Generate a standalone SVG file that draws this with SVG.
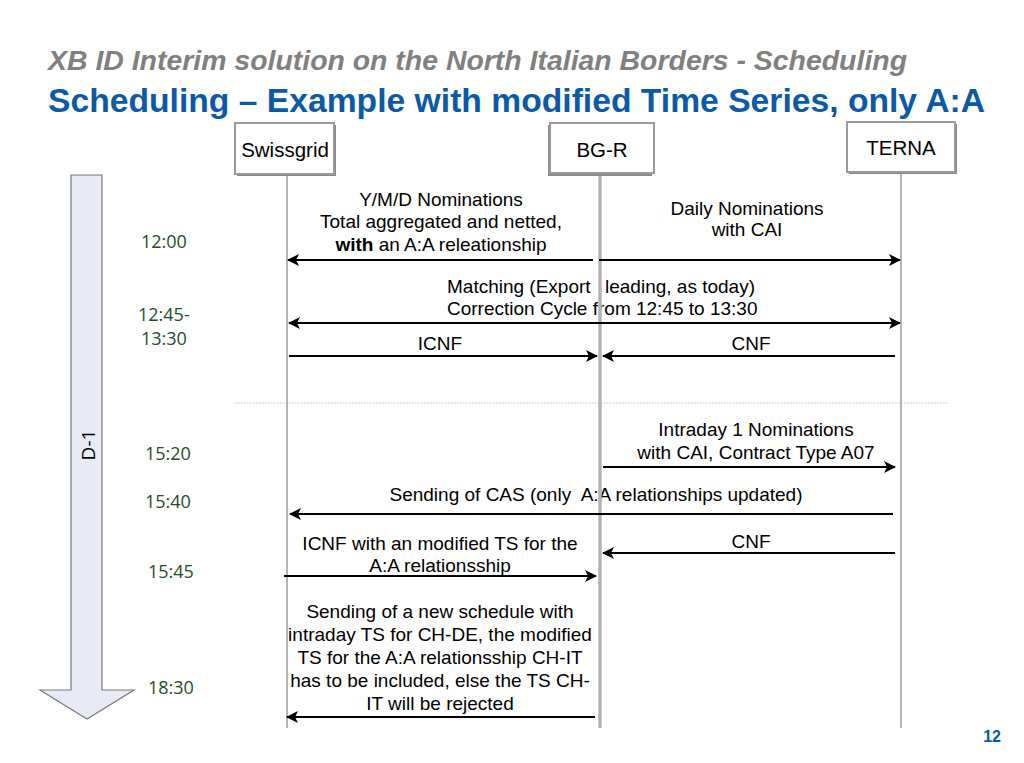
<svg xmlns="http://www.w3.org/2000/svg" width="1024" height="763" viewBox="0 0 1024 763">
<style>
.t{font-family:"Liberation Sans",Arial,sans-serif;font-size:19px;fill:#000;text-anchor:middle}
.ts{font-family:"Liberation Sans",Arial,sans-serif;font-size:19px;fill:#000;text-anchor:start}
.tm{font-family:"Open Sans","Noto Sans",sans-serif;font-size:18px;fill:#264d26}
.life{stroke:#b4b4b4;fill:none}
.box{fill:#fff;stroke:#9a9a9a;stroke-width:2}
.shadow{fill:#8a8a8a}
.lbl{font-family:"Liberation Sans",Arial,sans-serif;font-size:20.5px;fill:#000;text-anchor:middle}
.ar{stroke:#000;stroke-width:2;fill:none}
</style>
<defs>
<marker id="ah" viewBox="0 0 12 12" refX="11" refY="6" markerWidth="12" markerHeight="12" markerUnits="userSpaceOnUse" orient="auto-start-reverse">
<path d="M0,0 L12,6 L0,12 L3,6 z" fill="#000"/>
</marker>
</defs>
<rect width="1024" height="763" fill="#fff"/>
<text x="48" y="70" font-family="Liberation Sans,Arial,sans-serif" font-size="28" font-weight="bold" font-style="italic" fill="#808080" textLength="859" lengthAdjust="spacingAndGlyphs">XB ID Interim solution on the North Italian Borders - Scheduling</text>
<text x="48" y="112" font-family="Liberation Sans,Arial,sans-serif" font-size="33" font-weight="bold" fill="#0b5aa8" textLength="937" lengthAdjust="spacingAndGlyphs">Scheduling – Example with modified Time Series, only A:A</text>

<g id="timeline">
<path d="M71,175 L102,175 L102,690 L134,690 L87,719 L40,690 L71,690 Z" fill="#e8eaf5" stroke="#7a7a7a" stroke-width="1.2"/>
<text transform="translate(95,445) rotate(-90)" font-family="Open Sans,Noto Sans,sans-serif" font-size="19" fill="#000" text-anchor="middle">D-1</text>
</g>

<g id="times">
<text class="tm" x="141" y="248">12:00</text>
<text class="tm" x="138" y="321">12:45-</text>
<text class="tm" x="141" y="345">13:30</text>
<text class="tm" x="145" y="460">15:20</text>
<text class="tm" x="145" y="508">15:40</text>
<text class="tm" x="148" y="578">15:45</text>
<text class="tm" x="148" y="694">18:30</text>
</g>

<line x1="235" y1="403" x2="948" y2="403" stroke="#d4d4d4" stroke-width="1.5" stroke-dasharray="1.5,1.5"/>

<g id="labels">
<text class="t" x="441" y="206">Y/M/D Nominations</text>
<text class="t" x="441" y="228">Total aggregated and netted,</text>
<text class="t" x="441" y="251"><tspan font-weight="bold">with</tspan> an A:A releationship</text>
<text class="t" x="747" y="215">Daily Nominations</text>
<text class="t" x="747" y="236">with CAI</text>
<text class="ts" x="447" y="293">Matching (Export</text>
<text class="ts" x="605" y="293">leading, as today)</text>
<text class="ts" x="447" y="315">Correction Cycle from 12:45 to 13:30</text>
<text class="t" x="440" y="350">ICNF</text>
<text class="t" x="751" y="350">CNF</text>
<text class="t" x="756" y="436">Intraday 1 Nominations</text>
<text class="t" x="756" y="459">with CAI, Contract Type A07</text>
<text class="t" x="596" y="501" xml:space="preserve">Sending of CAS (only  A:A relationships updated)</text>
<text class="t" x="440" y="550">ICNF with an modified TS for the</text>
<text class="t" x="440" y="572">A:A relationsship</text>
<text class="t" x="751" y="548">CNF</text>
<text class="t" x="440" y="618">Sending of a new schedule with</text>
<text class="t" x="440" y="641">intraday TS for CH-DE, the modified</text>
<text class="t" x="440" y="664">TS for the A:A relationsship CH-IT</text>
<text class="t" x="440" y="687">has to be included, else the TS CH-</text>
<text class="t" x="440" y="710">IT will be rejected</text>
</g>

<g id="lifelines">
<line class="life" x1="287" y1="174" x2="287" y2="728" stroke-width="2"/>
<line class="life" x1="600" y1="174" x2="600" y2="728" stroke-width="3.5"/>
<line class="life" x1="901" y1="172" x2="901" y2="728" stroke-width="2"/>
</g>

<g id="swissgrid">
<rect class="shadow" x="237" y="125" width="99" height="51"/>
<rect class="box" x="235" y="123" width="99" height="51"/>
<text class="lbl" x="285" y="157">Swissgrid</text>
</g>
<g id="bgr">
<rect class="shadow" x="548" y="125" width="104" height="51"/>
<rect class="box" x="550" y="123" width="104" height="50"/>
<text class="lbl" x="602" y="157">BG-R</text>
</g>
<g id="terna">
<rect class="shadow" x="849" y="124" width="108" height="50"/>
<rect class="box" x="847" y="122" width="108" height="50"/>
<text class="lbl" x="901" y="155">TERNA</text>
</g>

<g id="connectors">
<line class="ar" x1="593" y1="260" x2="288" y2="260" marker-end="url(#ah)"/>
<line class="ar" x1="599" y1="260" x2="900" y2="260" marker-end="url(#ah)"/>
<line class="ar" x1="289" y1="323" x2="900" y2="323" marker-start="url(#ah)" marker-end="url(#ah)"/>
<line class="ar" x1="289" y1="356" x2="597" y2="356" marker-end="url(#ah)"/>
<line class="ar" x1="895" y1="356" x2="603" y2="356" marker-end="url(#ah)"/>
<line class="ar" x1="603" y1="467" x2="895" y2="467" marker-end="url(#ah)"/>
<line class="ar" x1="893" y1="514" x2="290" y2="514" marker-end="url(#ah)"/>
<line class="ar" x1="895" y1="553" x2="603" y2="553" marker-end="url(#ah)"/>
<line class="ar" x1="284" y1="576" x2="596" y2="576" marker-end="url(#ah)"/>
<line class="ar" x1="595" y1="717" x2="287" y2="717" marker-end="url(#ah)"/>
</g>

<text x="1001" y="742" font-family="Liberation Sans,Arial,sans-serif" font-size="16" font-weight="bold" fill="#0b5aa8" text-anchor="end">12</text>
</svg>
